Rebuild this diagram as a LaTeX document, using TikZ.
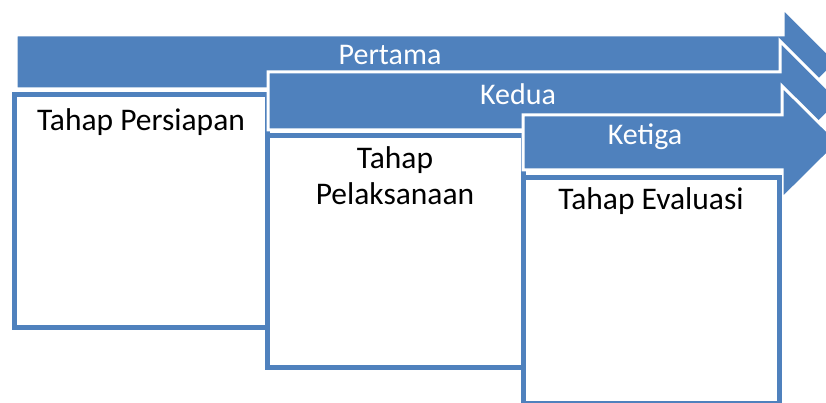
\documentclass[tikz,border=0pt]{standalone}
\usepackage{fontspec}
\setmainfont{Carlito}
\definecolor{acc}{HTML}{4F81BD}
\begin{document}
\begin{tikzpicture}[x=1pt,y=-1pt,
  arr/.style={fill=acc, draw=white, line width=3pt, line join=miter},
  stagebox/.style={draw=acc, fill=white, line width=5pt},
  barlbl/.style={anchor=base, inner sep=0pt, font=\fontsize{30}{36}\selectfont, text=white},
  boxlbl/.style={anchor=base, inner sep=0pt, font=\fontsize{31.5}{38}\selectfont, text=black}]
\clip (0,0) rectangle (826,403);
% arrow 1
\path[arr] (16,35) -- (783,35) -- (783,8) -- (837,62) -- (783,116) -- (783,89) -- (16,89) -- cycle;
\path[stagebox] (14,94.5) rectangle (267.5,327);
% arrow 2
\path[arr] (268,72) -- (780,72) -- (780,41) -- (840,101) -- (780,161) -- (780,130) -- (268,130) -- cycle;
\path[stagebox] (267.5,135.5) rectangle (523.5,367);
% arrow 3
\path[arr] (523,115) -- (782,115) -- (782,86) -- (839,142.5) -- (782,199) -- (782,170) -- (523,170) -- cycle;
\path[stagebox] (523.5,177.5) rectangle (779.5,403.5);
% labels
\node[barlbl] (l1) at (390,65) {Pertama};
\node[barlbl] (l2) at (518,105) {Kedua};
\node[barlbl] (l3) at (645,145) {Ketiga};
\node[boxlbl] (t1) at (141,131) {Tahap Persiapan};
\node[boxlbl] (t2a) at (395,169) {Tahap};
\node[boxlbl] (t2b) at (395,205) {Pelaksanaan};
\node[boxlbl] (t3) at (651,210) {Tahap Evaluasi};
\end{tikzpicture}
\end{document}
